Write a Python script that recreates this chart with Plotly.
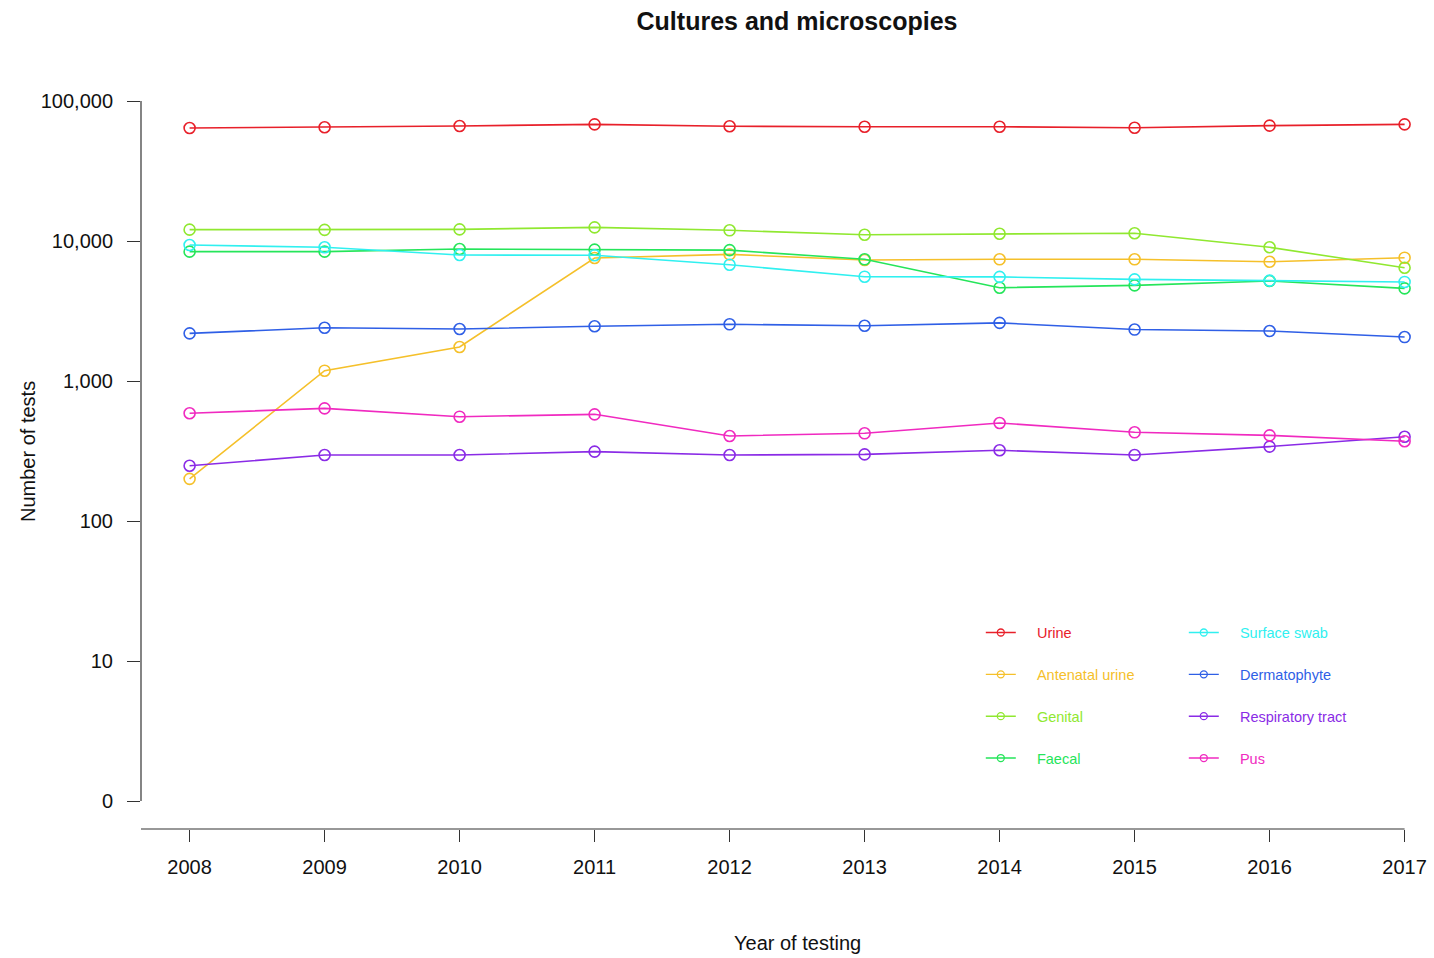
import plotly.graph_objects as go

years = [2008, 2009, 2010, 2011, 2012, 2013, 2014, 2015, 2016, 2017]

urine = [64100, 64900, 66300, 68100, 66000, 65500, 65500, 64400, 66700, 68100]
antenatal_urine = [200, 1185, 1750, 7560, 8030, 7310, 7400, 7400, 7110, 7600]
genital = [12050, 12000, 12100, 12520, 11920, 11090, 11270, 11350, 9020, 6440]
faecal = [8390, 8390, 8770, 8680, 8600, 7400, 4640, 4820, 5180, 4590]
surface_swab = [9360, 9020, 7940, 7910, 6770, 5560, 5540, 5320, 5210, 5100]
dermatophyte = [2190, 2400, 2350, 2460, 2540, 2480, 2600, 2330, 2275, 2060]
respiratory_tract = [248, 296, 296, 313, 296, 299, 320, 296, 340, 400]
pus = [588, 638, 556, 578, 405, 423, 501, 430, 409, 371]

series_names = ["Urine", "Antenatal urine", "Genital", "Faecal",
                "Surface swab", "Dermatophyte", "Respiratory tract", "Pus"]
series_values = [urine, antenatal_urine, genital, faecal,
                 surface_swab, dermatophyte, respiratory_tract, pus]
colors = ["#E8202A", "#F5C02A", "#90E830", "#25E55A",
          "#30F0F0", "#2F5FE6", "#8A2BE6", "#F02AC0"]

y_tickvals = [1, 10, 100, 1000, 10000, 100000]
y_ticktext = ["0", "10", "100", "1,000", "10,000", "100,000"]

FONT = "Liberation Sans, Arial, sans-serif"
AXIS_COLOR = "#333333"
NBSP = "\u00a0"

fig = go.Figure()

for name, vals, col in zip(series_names, series_values, colors):
    fig.add_trace(go.Scatter(
        x=years, y=vals, mode="lines+markers", name=name,
        line=dict(color=col, width=1.6),
        marker=dict(symbol="circle-open", size=11, color=col, line=dict(width=1.6)),
        showlegend=False,
    ))

# legend-only entries (smaller markers, coloured text), two columns
for i, (name, col) in enumerate(zip(series_names, colors)):
    fig.add_trace(go.Scatter(
        x=[None], y=[None], mode="lines+markers",
        name=f"<span style='color:{col}'>{NBSP * 4}{name}</span>",
        line=dict(color=col, width=1.4),
        marker=dict(symbol="circle-open", size=7, color=col, line=dict(width=1.3)),
        legend="legend" if i < 4 else "legend2",
        legendgroup=f"g{i}",
        showlegend=True,
    ))

legend_common = dict(
    font=dict(family=FONT, size=14.5),
    bgcolor="rgba(0,0,0,0)",
    tracegroupgap=20,
    orientation="v",
    xanchor="left",
    yanchor="top",
)

fig.update_layout(
    width=1434, height=958,
    margin=dict(l=141, r=0, t=73, b=129),
    paper_bgcolor="white", plot_bgcolor="white",
    font=dict(family=FONT, color="#222222"),
    title=dict(text="<b>Cultures and microscopies</b>", x=797 / 1434, xref="container",
               xanchor="center", y=1 - 21 / 958, yref="container", yanchor="middle",
               font=dict(family=FONT, size=25, color="#111111")),
    legend=dict(x=0.6495, y=0.281, **legend_common),
    legend2=dict(x=0.8065, y=0.281, **legend_common),
    xaxis=dict(
        range=[2007.64, 2007.64 + 1293 / 135],
        tickmode="array", tickvals=years, ticktext=[str(y) for y in years],
        ticks="outside", ticklen=12, tickwidth=1.2, tickcolor=AXIS_COLOR,
        showline=False, showgrid=False, zeroline=False,
        tickfont=dict(family=FONT, size=20, color="#111111"),
        ticklabelstandoff=8,
    ),
    yaxis=dict(
        type="log", range=[-0.2, 5.2],
        tickmode="array", tickvals=y_tickvals, ticktext=y_ticktext,
        ticks="outside", ticklen=13, tickwidth=1.2, tickcolor=AXIS_COLOR,
        showline=False, showgrid=False, zeroline=False,
        tickfont=dict(family=FONT, size=20, color="#111111"),
        ticklabelstandoff=10,
    ),
)

# R-style detached axis lines spanning the tick range
fig.add_shape(type="line", xref="x", yref="paper", x0=2007.64, x1=years[-1], y0=0, y1=0,
              line=dict(color=AXIS_COLOR, width=1.2))
fig.add_shape(type="line", xref="paper", yref="y", x0=0, x1=0, y0=y_tickvals[0], y1=y_tickvals[-1],
              line=dict(color=AXIS_COLOR, width=1.2))

fig.add_annotation(text="Year of testing", xref="paper", yref="paper",
                   x=(797 - 141) / 1293, y=(829 - 943) / 756, showarrow=False,
                   xanchor="center", yanchor="middle",
                   font=dict(family=FONT, size=20, color="#111111"))
fig.add_annotation(text="Number of tests", xref="paper", yref="paper",
                   x=(28 - 141) / 1293, y=0.5, showarrow=False, textangle=-90,
                   xanchor="center", yanchor="middle",
                   font=dict(family=FONT, size=20, color="#111111"))

fig.write_html("out.html")
